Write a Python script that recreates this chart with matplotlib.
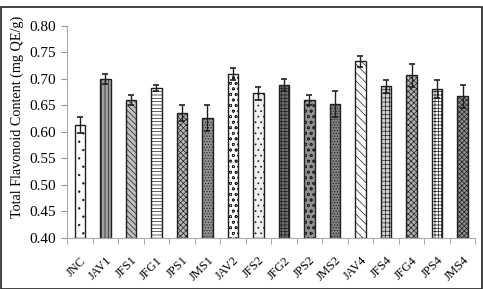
import numpy as np
import matplotlib
matplotlib.use("Agg")
import matplotlib.pyplot as plt
from matplotlib.patches import Rectangle

plt.rcParams['hatch.linewidth'] = 0.5

samples = ['JNC', 'JAV1', 'JFS1', 'JFG1', 'JPS1', 'JMS1', 'JAV2', 'JFS2',
           'JFG2', 'JPS2', 'JMS2', 'JAV4', 'JFS4', 'JFG4', 'JPS4', 'JMS4']
flavonoid = [0.613, 0.700, 0.660, 0.683, 0.636, 0.626, 0.709, 0.673,
             0.689, 0.660, 0.653, 0.733, 0.686, 0.707, 0.681, 0.667]
errors = [0.015, 0.009, 0.010, 0.006, 0.015, 0.025, 0.011, 0.012,
          0.011, 0.010, 0.024, 0.011, 0.012, 0.022, 0.017, 0.022]

# fill / hatch per bar, picked by eye
fills = ['white', '#a0a0a0', '#c0c0c0', 'white', '#b8b8b8', '#909090', 'white', '#f0f0f0',
         '#707070', '#909090', '#808080', 'white', '#d0d0d0', '#b0b0b0', 'white', '#909090']
hatches = ['..', '|||||', '\\\\\\\\\\\\', '-----', 'xxxxxx', '......', 'ooo', '...',
           '+++++', 'ooo', '......', '\\\\\\\\', '++++', 'xxxxxx', '+++++', 'xxxxxxx']

fig = plt.figure(figsize=(4.83, 2.89), dpi=100)
ax = fig.add_axes([0.139, 0.177, 0.845, 0.733])

x = np.arange(len(samples))
for i in range(len(samples)):
    ax.bar(x[i], flavonoid[i] - 0.40, bottom=0.40, width=0.42, color=fills[i],
           edgecolor='#202020', linewidth=1.0, hatch=hatches[i], zorder=2)
ax.errorbar(x, flavonoid, yerr=errors, fmt='none', ecolor='#202020',
            elinewidth=1.0, capsize=2.5, capthick=1.2, zorder=3)

ax.set_ylim(0.40, 0.80)
ax.set_yticks(np.arange(0.40, 0.801, 0.05))
ax.set_yticklabels(['%.2f' % v for v in np.arange(0.40, 0.801, 0.05)],
                   fontfamily='Liberation Serif', fontsize=11)
ax.set_xlim(-0.5, len(samples) - 0.5)
ax.set_xticks(x)
ax.set_xticklabels(samples, rotation=45, ha='right', rotation_mode='anchor',
                   fontfamily='Liberation Serif', fontsize=9)
ax.tick_params(axis='x', length=0, pad=12)
ax.set_xticks(np.arange(-0.5, len(samples), 1.0), minor=True)
ax.tick_params(axis='x', which='minor', length=4, color='#999999')
ax.tick_params(axis='y', length=4, color='#999999', pad=4)

for s in ['top', 'right']:
    ax.spines[s].set_visible(False)
for s in ['left', 'bottom']:
    ax.spines[s].set_color('#aaaaaa')

ax.set_ylabel('Total Flavonoid Content (mg QE/g)', fontfamily='Liberation Serif',
              fontsize=10.2)
ax.yaxis.set_label_coords(-0.105, 0.57)

# frame around whole figure
fig.patches.append(Rectangle((0.003, 0.0), 0.994, 0.975, transform=fig.transFigure,
                             fill=False, edgecolor='#222222', linewidth=1.2))

fig.savefig('out.png', dpi=100)
